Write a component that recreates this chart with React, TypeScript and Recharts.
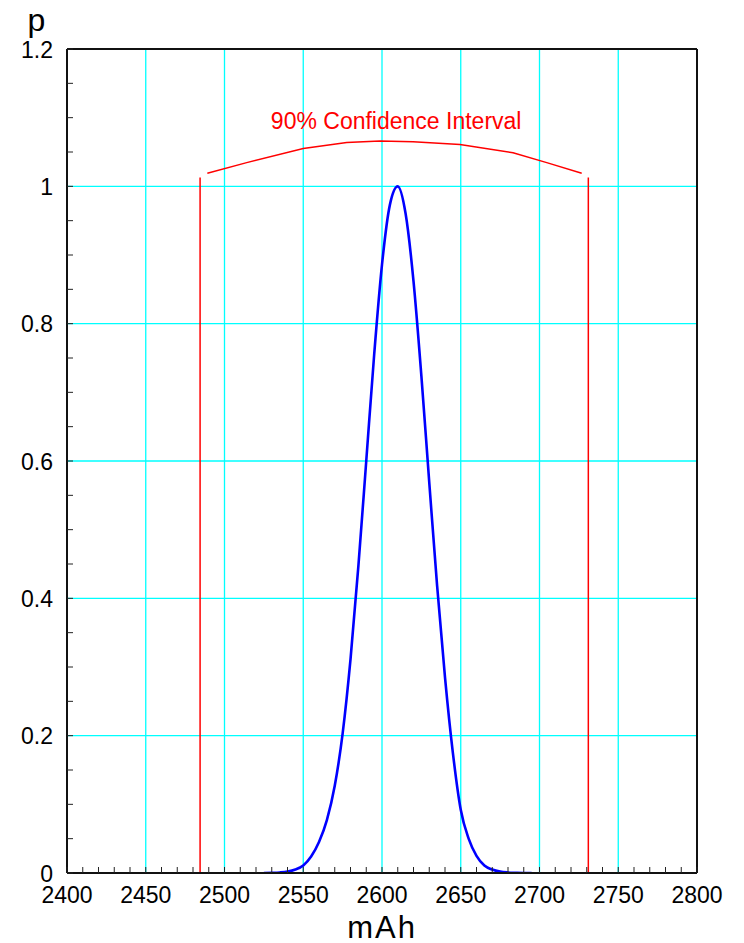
import { LineChart, Line, XAxis, YAxis, ReferenceLine, ReferenceDot } from 'recharts';

// capacity (mAh) and probability
const capacity = [
  2525, 2530, 2535, 2540, 2545, 2550, 2555, 2560, 2565, 2570, 2575, 2580,
  2585, 2590, 2595, 2600, 2605, 2610, 2615, 2620, 2625, 2630, 2635, 2640,
  2645, 2650, 2655, 2660, 2665, 2670, 2675, 2680, 2685, 2690, 2695,
];
const probability = [
  0, 0.0003, 0.0008, 0.002, 0.005, 0.011, 0.024, 0.045, 0.077, 0.127, 0.203, 0.311,
  0.447, 0.6, 0.754, 0.886, 0.973, 1.0, 0.96, 0.862, 0.724, 0.569, 0.418, 0.285,
  0.175, 0.092, 0.05, 0.025, 0.011, 0.005, 0.002, 0.0008, 0.0003, 0, 0,
];

// confidence interval bounds and the bracket arc above them
const lowerBound = 2484.5;
const upperBound = 2731;
const boundTop = 1.013;
const arcX = [2489.1, 2514.1, 2550.0, 2577.6, 2598.7, 2619.7, 2649.5, 2683.2, 2704.6, 2726.8];
const arcY = [1.019, 1.0345, 1.055, 1.064, 1.066, 1.065, 1.061, 1.049, 1.0345, 1.019];
const intervalLabel = '90% Confidence Interval';

const xMajorTicks = [2400, 2450, 2500, 2550, 2600, 2650, 2700, 2750, 2800];
const xMinorTicks = [
  2400, 2410, 2420, 2430, 2440, 2450, 2460, 2470, 2480, 2490, 2500, 2510, 2520, 2530,
  2540, 2550, 2560, 2570, 2580, 2590, 2600, 2610, 2620, 2630, 2640, 2650, 2660, 2670,
  2680, 2690, 2700, 2710, 2720, 2730, 2740, 2750, 2760, 2770, 2780, 2790, 2800,
];
const yMajorTicks = [0, 0.2, 0.4, 0.6, 0.8, 1, 1.2];
const yMinorTicks = [
  0, 0.05, 0.1, 0.15, 0.2, 0.25, 0.3, 0.35, 0.4, 0.45, 0.5, 0.55, 0.6, 0.65, 0.7,
  0.75, 0.8, 0.85, 0.9, 0.95, 1, 1.05, 1.1, 1.15, 1.2,
];

const curve = capacity.map((x, i) => ({ x, y: probability[i] }));
const arc = arcX.map((x, i) => ({ x, y: arcY[i] }));
const lowerLine = [{ x: lowerBound, y: 0 }, { x: lowerBound, y: boundTop }];
const upperLine = [{ x: upperBound, y: 0 }, { x: upperBound, y: boundTop }];

const isMajor = (list: number[], v: number) => list.some((m) => Math.abs(m - v) < 1e-6);

function XTick({ x, y, payload }: any) {
  const v = payload.value;
  return (
    <g>
      <line x1={x} y1={y} x2={x} y2={y - 6} stroke="#222" strokeWidth={1} />
      {isMajor(xMajorTicks, v) && (
        <text x={x} y={y + 30} textAnchor="middle" fontSize={23} fill="#000">
          {v}
        </text>
      )}
    </g>
  );
}

function YTick({ x, y, payload }: any) {
  const v = payload.value;
  return (
    <g>
      <line x1={x} y1={y} x2={x + 6} y2={y} stroke="#222" strokeWidth={1} />
      {isMajor(yMajorTicks, v) && (
        <text x={x - 14} y={y + 8.5} textAnchor="end" fontSize={23} fill="#000">
          {String(Math.round(v * 5) / 5)}
        </text>
      )}
    </g>
  );
}

export default function App() {
  return (
    <div style={{ position: 'absolute', left: 0, top: 0, background: '#fff' }}>
      <LineChart
        width={744}
        height={943}
        margin={{ top: 49, right: 47, bottom: 0, left: 0 }}
        style={{ fontFamily: '"Liberation Sans", Arial, sans-serif' }}
      >
        {xMajorTicks.slice(1, -1).map((v) => (
          <ReferenceLine key={'gx' + v} x={v} stroke="#00FFFF" strokeWidth={1.3} />
        ))}
        {yMajorTicks.slice(1, -1).map((v) => (
          <ReferenceLine key={'gy' + v} y={v} stroke="#00FFFF" strokeWidth={1.3} />
        ))}
        <ReferenceLine y={1.2} stroke="#111" strokeWidth={2} />
        <ReferenceLine x={2800} stroke="#111" strokeWidth={2} />
        <XAxis
          type="number"
          dataKey="x"
          domain={[2400, 2800]}
          ticks={xMinorTicks}
          interval={0}
          tickSize={0}
          tickMargin={0}
          tickLine={false}
          tick={<XTick />}
          height={70}
          axisLine={{ stroke: '#111', strokeWidth: 2 }}
          allowDataOverflow
          label={{ value: 'mAh', position: 'insideBottom', offset: 5, fontSize: 31, fill: '#000', letterSpacing: 2 }}
        />
        <YAxis
          type="number"
          dataKey="y"
          domain={[0, 1.2]}
          ticks={yMinorTicks}
          interval={0}
          tickSize={0}
          tickMargin={0}
          tickLine={false}
          tick={<YTick />}
          width={67}
          axisLine={{ stroke: '#111', strokeWidth: 2 }}
          allowDataOverflow
          label={{ value: 'p', position: 'top', offset: 18, fontSize: 32, fill: '#000', dx: 3 }}
        />
        <Line data={lowerLine} dataKey="y" stroke="#FF0000" strokeWidth={1.5} dot={false} isAnimationActive={false} />
        <Line data={upperLine} dataKey="y" stroke="#FF0000" strokeWidth={1.5} dot={false} isAnimationActive={false} />
        <Line data={arc} dataKey="y" type="linear" stroke="#FF0000" strokeWidth={1.5} dot={false} isAnimationActive={false} />
        <Line data={curve} dataKey="y" type="monotone" stroke="#0000FF" strokeWidth={2.6} dot={false} isAnimationActive={false} />
        <ReferenceDot
          x={2609}
          y={1.095}
          r={0}
          fill="none"
          stroke="none"
          label={{ value: intervalLabel, position: 'center', fill: '#FF0000', fontSize: 23 }}
        />
      </LineChart>
    </div>
  );
}
